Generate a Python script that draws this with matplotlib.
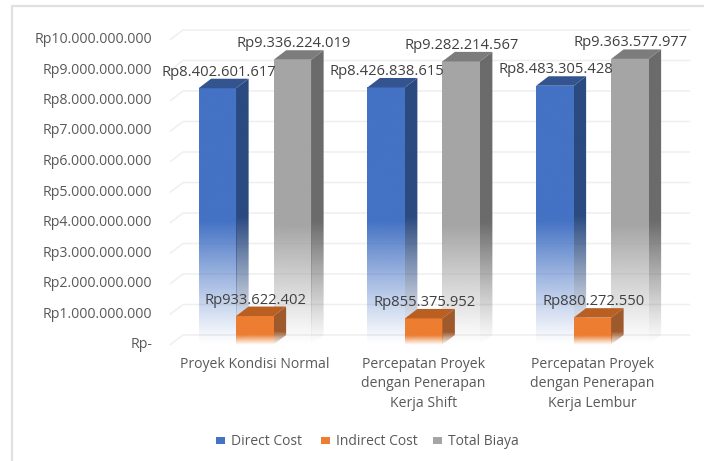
import numpy as np
import matplotlib
matplotlib.use("Agg")
import matplotlib.pyplot as plt
from matplotlib.patches import Polygon, Rectangle
from matplotlib.lines import Line2D
from matplotlib.colors import to_rgb

categories = ["Proyek Kondisi Normal",
              "Percepatan Proyek\ndengan Penerapan\nKerja Shift",
              "Percepatan Proyek\ndengan Penerapan\nKerja Lembur"]
direct_cost = [8402601617, 8426838615, 8483305428]
indirect_cost = [933622402, 855375952, 880272550]
total_biaya = [9336224019, 9282214567, 9363577977]
series_names = ["Direct Cost", "Indirect Cost", "Total Biaya"]
y_ticks = list(range(0, 11))

def rupiah(v):
    return "Rp" + f"{int(v):,}".replace(",", ".")

plt.rcParams['font.family'] = ['Open Sans', 'DejaVu Sans']
W, H = 704, 461
fig = plt.figure(figsize=(W/100, H/100), dpi=100)
fig.add_artist(Line2D([12/W, 12/W, 1], [0, 1-6/H, 1-6/H], transform=fig.transFigure,
                      color="#e0e0e0", lw=1.6, zorder=-1))
L, R, T, B = 170.5, 676.75, 39.5, 344.5
ax = fig.add_axes([L/W, 1-B/H, (R-L)/W, (B-T)/H])
ax.axis("off")
px = 3/(R-L); py = 1e10/(B-T)
dx, dy = 12.5*px, 9.5*py
TXT = "#595959"

for t in y_ticks:
    v = t*1e9
    ax.plot([0, dx, 3+dx], [v, v+dy, v+dy], color="#efefef", lw=1.1, zorder=1, clip_on=False)
    ax.text(-18.5*px, v, "Rp-" if t == 0 else rupiah(v), ha="right", va="center",
            fontsize=10.2, color=TXT, clip_on=False)

def fade(color, frac):
    n = 256
    c = np.ones((n, 1, 4))
    c[..., :3] = to_rgb(color)
    f = np.linspace(0, 1, n)        # 0 = bottom
    c[:, 0, 3] = np.clip(f/frac, 0, 1)**1.1
    return c

def bar3d(x0, w, v, front, side, top, z, frac):
    ax.imshow(fade(front, frac), extent=(x0, x0+w, 0, v), origin="lower", aspect="auto", zorder=z)
    im2 = ax.imshow(fade(side, frac), extent=(x0+w, x0+w+dx, 0, v+dy), origin="lower", aspect="auto", zorder=z)
    poly = Polygon([(x0+w, 0), (x0+w+dx, dy), (x0+w+dx, v+dy), (x0+w, v)], transform=ax.transData, fc="none", ec="none")
    ax.add_patch(poly)
    im2.set_clip_path(poly)
    ax.add_patch(Polygon([(x0, v), (x0+w, v), (x0+w+dx, v+dy), (x0+dx, v+dy)], fc=top, ec="none", zorder=z))

bw = 37.5*px
styles = [("#4472c4", "#2a4a80", "#33548f", 0.48),
          ("#ed7d31", "#9e5a2c", "#b95f22", 0.36),
          ("#a5a5a5", "#6b6b6b", "#7c7c7c", 0.42)]
data = [direct_cost, indirect_cost, total_biaya]
order = [0, 2, 1]
for i, cat in enumerate(categories):
    c = i + 0.5
    for s in order:
        v = data[s][i]
        x0 = c + (s-1.5)*bw
        fr, si, to, frac = styles[s]
        bar3d(x0, bw, v, fr, si, to, 3 + (1 if s == 1 else 0), frac)
    ax.text(c, -12*py, cat, ha="center", va="top", fontsize=10.1, color=TXT,
            linespacing=1.42, clip_on=False)
for i in range(3):
    c = i + 0.5
    for s in range(3):
        v = data[s][i]
        x = c + (s-1.5)*bw + bw/2 + 1*px
        ax.text(x, v + 16*py, rupiah(v), ha="center", va="center", fontsize=10.6,
                color="#404040", zorder=8, clip_on=False)

ax.set_xlim(0, 3); ax.set_ylim(0, 1e10)

# legend
items = [(216, 231), (321, 336), (433, 448)]
for (x0, xt), name, col in zip(items, series_names, ["#4472c4", "#ed7d31", "#a5a5a5"]):
    fig.add_artist(Rectangle((x0/W, 1-444/H), 9/W, 7/H, transform=fig.transFigure, fc=col, ec="none"))
    fig.text(xt/W, 1-441/H, name, ha="left", va="center", fontsize=10, color=TXT)
fig.savefig("out.png", dpi=100)
